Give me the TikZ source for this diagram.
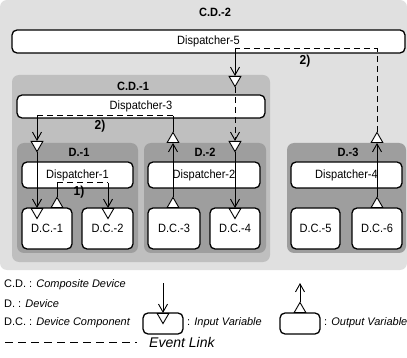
\documentclass[tikz,border=0pt]{standalone}
\usepackage{fontspec}
\setmainfont{Liberation Sans}
\newfontfamily\narrowsans[FakeStretch=0.92]{Liberation Sans}
\usetikzlibrary{shapes.geometric,arrows.meta}

\definecolor{bgouter}{gray}{0.88}
\definecolor{bgcd}{gray}{0.75}
\definecolor{bgdev}{gray}{0.62}

\tikzset{
  region/.style={draw=none, rounded corners=7pt},
  box/.style={draw, fill=white, rounded corners=5pt, line width=1.3pt,
    inner sep=0pt, font=\narrowsans\fontsize{12}{14}\selectfont},
  title/.style={font=\narrowsans\fontsize{12}{14}\selectfont\bfseries, inner sep=0pt},
  intri/.style={regular polygon, regular polygon sides=3, shape border rotate=180,
    draw, fill=white, minimum size=13.5pt, inner sep=0pt, line width=0.9pt},
  outtri/.style={regular polygon, regular polygon sides=3,
    draw, fill=white, minimum size=13.5pt, inner sep=0pt, line width=0.9pt},
  link/.style={line width=0.9pt},
  ev/.style={line width=1pt, dash pattern=on 6pt off 4pt},
  tip/.style={-{Straight Barb[length=8pt,width=9pt,line width=0.9pt]}},
  num/.style={font=\narrowsans\fontsize{13}{15}\selectfont\bfseries, inner sep=0pt},
  legend/.style={font=\fontsize{11}{13}\selectfont, inner sep=0pt, anchor=west},
}

\begin{document}
\begin{tikzpicture}[x=1pt, y=-1pt]
\useasboundingbox (0,0) rectangle (407,358);

% nested containers
\node[region, fill=bgouter, minimum width=407pt, minimum height=270pt] (cd2) at (203.5,135) {};
\node[region, fill=bgcd, minimum width=258pt, minimum height=187pt] (cd1) at (141,168.5) {};
\node[region, fill=bgdev, minimum width=121pt, minimum height=110pt] (d1) at (77.5,198) {};
\node[region, fill=bgdev, minimum width=122pt, minimum height=110pt] (d2) at (205,198) {};
\node[region, fill=bgdev, minimum width=119pt, minimum height=110pt] (d3) at (346.5,198) {};

% container titles
\node[title] (tcd2) at (215,12) {C.D.-2};
\node[title] (tcd1) at (133,86) {C.D.-1};
\node[title] (td1) at (79,152) {D.-1};
\node[title] (td2) at (205,152) {D.-2};
\node[title] (td3) at (348,152) {D.-3};

% dispatchers
\node[box, minimum width=393pt, minimum height=23pt] (disp5) at (208.5,41.5) {Dispatcher-5};
\node[box, minimum width=248pt, minimum height=23pt] (disp3) at (141,106.5) {Dispatcher-3};
\node[box, minimum width=111pt, minimum height=26pt] (disp1) at (77.5,175) {Dispatcher-1};
\node[box, minimum width=112pt, minimum height=26pt] (disp2) at (204,175) {Dispatcher-2};
\node[box, minimum width=111pt, minimum height=26pt] (disp4) at (346.5,175) {Dispatcher-4};

% device components
\node[box, minimum width=50pt, minimum height=41pt] (dc1) at (47,228.5) {D.C.-1};
\node[box, minimum width=51pt, minimum height=41pt] (dc2) at (107.5,228.5) {D.C.-2};
\node[box, minimum width=52pt, minimum height=41pt] (dc3) at (174,228.5) {D.C.-3};
\node[box, minimum width=50pt, minimum height=41pt] (dc4) at (235,228.5) {D.C.-4};
\node[box, minimum width=49pt, minimum height=41pt] (dc5) at (315.5,228.5) {D.C.-5};
\node[box, minimum width=50pt, minimum height=41pt] (dc6) at (377,228.5) {D.C.-6};

% input and output variables
\node[intri, anchor=north] (cd1in) at (235,76) {};
\node[intri, anchor=north] (d1in) at (37,141) {};
\node[intri, anchor=north] (d2in) at (235,141) {};
\node[outtri, anchor=south] (d2out) at (173,143) {};
\node[outtri, anchor=south] (d3out) at (377,143) {};
\node[intri, anchor=north] (dc1in) at (37,208) {};
\node[outtri, anchor=south] (dc1out) at (57,208) {};
\node[intri, anchor=north] (dc2in) at (108,208) {};
\node[outtri, anchor=south] (dc3out) at (173,208) {};
\node[intri, anchor=north] (dc4in) at (235,208) {};
\node[outtri, anchor=south] (dc6out) at (377,208) {};

% bend points of the event links
\coordinate (k5) at (235,49);
\coordinate (k3a) at (173,116);
\coordinate (k3b) at (37,116);
\coordinate (k1a) at (57,183);
\coordinate (k1b) at (108,183);

% event link 2) through Dispatcher-5
\draw[ev] (d3out.north) |- (k5);
\draw[link, tip] (k5) -- (cd1in.north);
\node[num] (n2a) at (305,61) {2)};

% variable links
\draw[ev, tip] (cd1in.south) -- (d2in.north);
\draw[link, tip] (d2in.south) -- (dc4in.north);
\draw[link, tip] (dc3out.north) -- (d2out.south);
\draw[link, tip] (dc6out.north) -- (d3out.south);
\draw[link, tip] (d1in.south) -- (dc1in.north);

% event link 2) through Dispatcher-3
\draw[link] (d2out.north) -- (k3a);
\draw[ev] (k3a) -- (k3b);
\draw[link, tip] (k3b) -- (d1in.north);
\node[num] (n2b) at (100,126) {2)};

% event link 1) through Dispatcher-1
\draw[link] (dc1out.north) -- (k1a);
\draw[ev] (k1a) -- (k1b);
\draw[link, tip] (k1b) -- (dc2in.north);
\node[num] (n1) at (79,192) {1)};

% legend
\node[legend] (l1) at (4,285) {C.D. : \textit{Composite Device}};
\node[legend] (l2) at (4,304) {D. : \textit{Device}};
\node[legend] (l3) at (4,323) {D.C. : \textit{Device Component}};

\node[box, minimum width=40pt, minimum height=21pt] (lin) at (163,323.5) {};
\node[intri, anchor=north] (lintri) at (163,313) {};
\coordinate (linsrc) at (163,283);
\draw[link, tip] (linsrc) -- (lintri.north);
\node[legend] (lintxt) at (187,323) {: \textit{Input Variable}};

\node[box, minimum width=40pt, minimum height=21pt] (lout) at (300,323.5) {};
\node[outtri, anchor=south] (louttri) at (300,313) {};
\coordinate (loutdst) at (300,283);
\draw[link, tip] (louttri.north) -- (loutdst);
\node[legend] (louttxt) at (324,323) {: \textit{Output Variable}};

\coordinate (ev1) at (5,342);
\coordinate (ev2) at (137,342);
\draw[line width=1pt, dash pattern=on 8pt off 5pt] (ev1) -- (ev2);
\node[legend, font=\fontsize{14}{16}\selectfont\itshape] (evtxt) at (149,342) {Event Link};
\end{tikzpicture}
\end{document}
